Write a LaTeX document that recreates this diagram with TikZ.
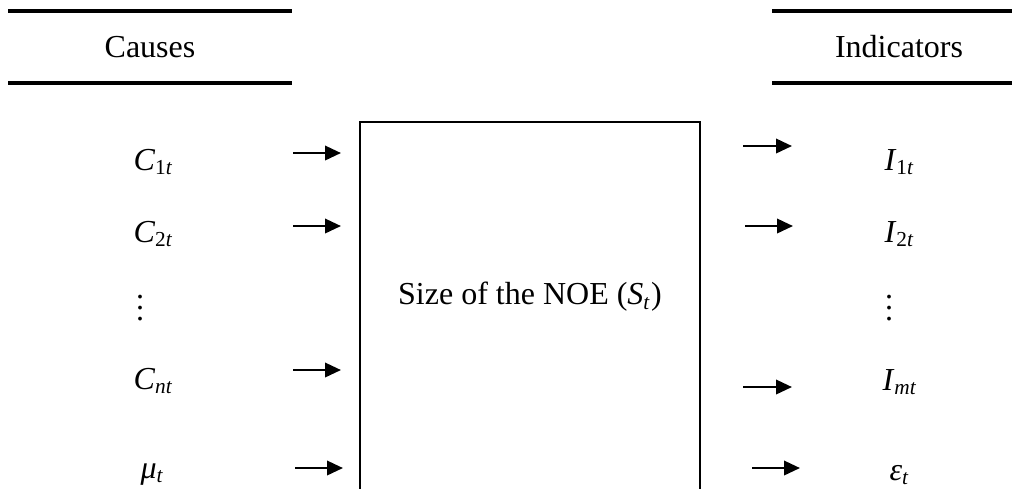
\documentclass[tikz,border=0pt]{standalone}
\usepackage{fontspec}
\setmainfont{Liberation Serif}
\usetikzlibrary{arrows.meta}

\begin{document}
\begin{tikzpicture}[
    x=0.375pt,y=-0.375pt,
    font=\fontsize{12}{14}\selectfont,
    rule/.style={line width=1.25pt},
    frame/.style={draw,line width=0.9pt,minimum width=127.5pt,minimum height=141.75pt,inner sep=0pt},
    lab/.style={anchor=base west,inner sep=0pt},
    flow/.style={->,line width=0.9pt},
    >={Triangle[length=6pt,width=5.4pt]}
]
\useasboundingbox (0,0) rectangle (1012,488);

% headers
\draw[rule] (8,11) -- (292,11);
\draw[rule] (8,83) -- (292,83);
\node (causes) at (150,47) {Causes};
\draw[rule] (772,11) -- (1012,11);
\draw[rule] (772,83) -- (1012,83);
\node (indic) at (899,47) {Indicators};

% the box
\node[frame] (noe) at (530,311) {};
\node (size) at (530,297) {Size of the NOE (\textit{S}\textsubscript{\textit{t}})};

% causes
\node[lab] (c1) at (133,170) {\textit{C}\textsubscript{1\textit{t}}};
\node[lab] (c2) at (133,242) {\textit{C}\textsubscript{2\textit{t}}};
\node (cdots) at (140,300) {$\vdots$};
\node[lab] (cn) at (133,389) {\textit{C}\textsubscript{\textit{nt}}};
\node[lab] (mu) at (140,478) {\textit{μ}\textsubscript{\textit{t}}};

% indicators
\node[lab] (i1) at (884,170) {\textit{I}\textsubscript{1\textit{t}}};
\node[lab] (i2) at (884,242) {\textit{I}\textsubscript{2\textit{t}}};
\node (idots) at (889,300) {$\vdots$};
\node[lab] (im) at (882,390) {\textit{I}\textsubscript{\textit{mt}}};
\node[lab] (eps) at (889,480) {\textit{ε}\textsubscript{\textit{t}}};

% arrow ends
\coordinate (a1) at (293,153); \coordinate (b1) at (341,153);
\coordinate (a2) at (293,226); \coordinate (b2) at (341,226);
\coordinate (a3) at (293,370); \coordinate (b3) at (341,370);
\coordinate (a4) at (295,468); \coordinate (b4) at (343,468);
\coordinate (p1) at (743,146); \coordinate (q1) at (792,146);
\coordinate (p2) at (745,226); \coordinate (q2) at (793,226);
\coordinate (p3) at (743,387); \coordinate (q3) at (792,387);
\coordinate (p4) at (752,468); \coordinate (q4) at (800,468);

\draw[flow] (a1) -- (b1);
\draw[flow] (a2) -- (b2);
\draw[flow] (a3) -- (b3);
\draw[flow] (a4) -- (b4);
\draw[flow] (p1) -- (q1);
\draw[flow] (p2) -- (q2);
\draw[flow] (p3) -- (q3);
\draw[flow] (p4) -- (q4);
\end{tikzpicture}
\end{document}
